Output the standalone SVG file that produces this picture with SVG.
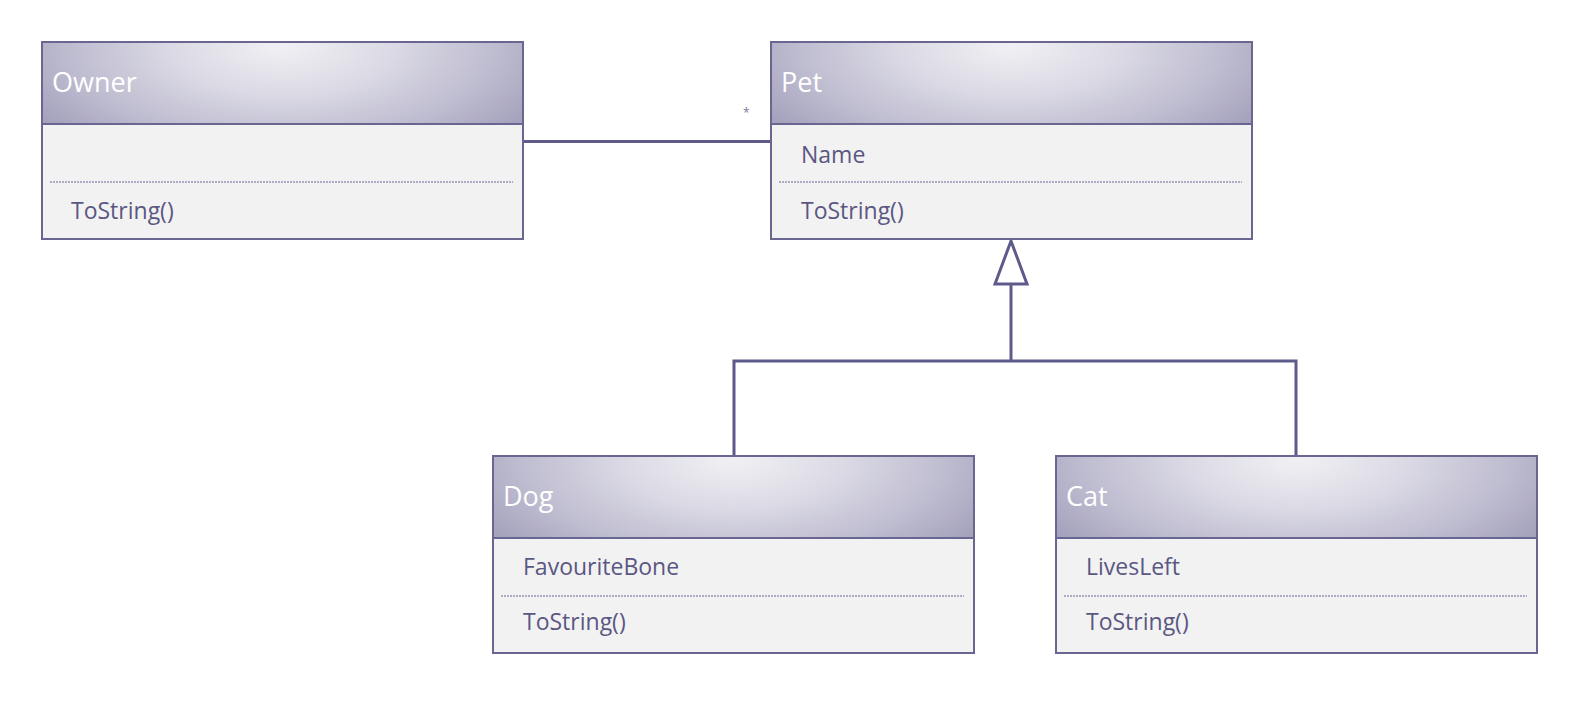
<svg xmlns="http://www.w3.org/2000/svg" width="1576" height="702" viewBox="0 0 1576 702">
<defs>
<radialGradient id="hg" cx="0.5" cy="0.05" r="0.6" fx="0.5" fy="0.05" gradientTransform="translate(0.5,0.05) scale(1,2.6) translate(-0.5,-0.05)">
<stop offset="0" stop-color="#f0f0f4"/>
<stop offset="0.35" stop-color="#dddce6"/>
<stop offset="0.75" stop-color="#bdbbcf"/>
<stop offset="1" stop-color="#a5a2bd"/>
</radialGradient>
</defs>
<style>
.hdr{fill:url(#hg);stroke:#6a6692;stroke-width:2}
.body{fill:#f2f2f2;stroke:#6a6692;stroke-width:2}
.sep{stroke:#6a6692;stroke-width:1;stroke-dasharray:2 1}
.title{font-family:"Open Sans","Noto Sans",sans-serif;font-size:27px;fill:#ffffff}
.mem{font-family:"Open Sans","Noto Sans",sans-serif;font-size:23px;fill:#5b5783}
.conn{stroke:#5f5a8c;stroke-width:3;fill:none}
.mult{font-family:"Open Sans",sans-serif;font-size:12px;fill:#7d7a9c}
</style>
<rect width="1576" height="702" fill="#ffffff"/>
<g id="connectors">
<line class="conn" x1="523" y1="141.5" x2="771" y2="141.5"/>
<text class="mult" x="743" y="117">*</text>
<polyline class="conn" points="734,456 734,361 1296,361 1296,456"/>
<line class="conn" x1="1011" y1="361" x2="1011" y2="284"/>
<polygon class="conn" points="1011,241 995,284 1027,284" fill="#ffffff" stroke-linejoin="miter"/>
</g>
<g id="owner">
<rect class="body" x="42" y="124" width="481" height="115"/>
<rect class="hdr" x="42" y="42" width="481" height="82"/>
<line class="sep" x1="50" y1="182" x2="513" y2="182"/>
<text class="title" x="52" y="92">Owner</text>
<text class="mem" x="71" y="219">ToString()</text>
</g>
<g id="pet">
<rect class="body" x="771" y="124" width="481" height="115"/>
<rect class="hdr" x="771" y="42" width="481" height="82"/>
<line class="sep" x1="779" y1="182" x2="1242" y2="182"/>
<text class="title" x="781" y="92">Pet</text>
<text class="mem" x="801" y="163">Name</text>
<text class="mem" x="801" y="219">ToString()</text>
</g>
<g id="dog">
<rect class="body" x="493" y="538" width="481" height="115"/>
<rect class="hdr" x="493" y="456" width="481" height="82"/>
<line class="sep" x1="501" y1="596" x2="964" y2="596"/>
<text class="title" x="503" y="506">Dog</text>
<text class="mem" x="523" y="575">FavouriteBone</text>
<text class="mem" x="523" y="630">ToString()</text>
</g>
<g id="cat">
<rect class="body" x="1056" y="538" width="481" height="115"/>
<rect class="hdr" x="1056" y="456" width="481" height="82"/>
<line class="sep" x1="1064" y1="596" x2="1527" y2="596"/>
<text class="title" x="1066" y="506">Cat</text>
<text class="mem" x="1086" y="575">LivesLeft</text>
<text class="mem" x="1086" y="630">ToString()</text>
</g>
</svg>
